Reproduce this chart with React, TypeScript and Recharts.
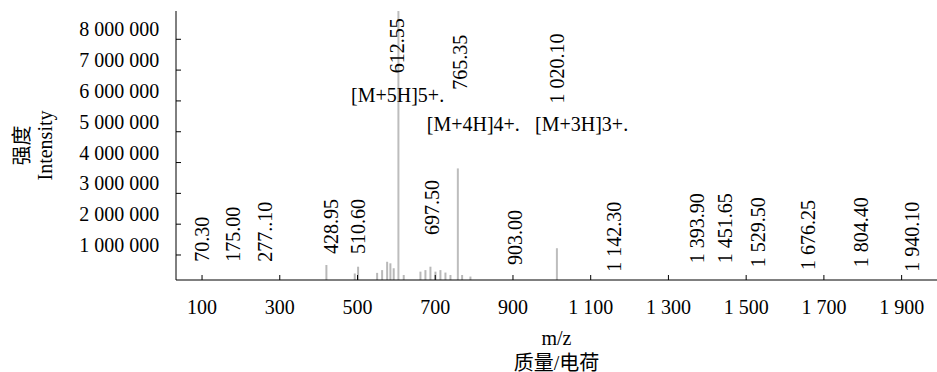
import React from 'react'
import { ComposedChart, Bar, Scatter, XAxis, YAxis, Cell } from 'recharts'

const SERIF = "'Liberation Serif', 'Times New Roman', 'Noto Sans CJK SC', serif"
const MZ_DOMAIN = [33, 1991]

// axis ticks
const xTicks = [100, 300, 500, 700, 900, 1100, 1300, 1500, 1700, 1900]
const yTicks = [1000000, 2000000, 3000000, 4000000, 5000000, 6000000, 7000000, 8000000]

// spectrum peaks (m/z, intensity)
const peakMz = [419, 492, 500.6, 549.5, 562.4, 575.3, 583.7, 592.2, 604.3, 618, 661, 673.8, 686.7, 699.6, 712.4, 725.3, 738.2, 757.2, 768.2, 789.6, 1012.1]
const peakIntensity = [675000, 400000, 620000, 420000, 510000, 780000, 730000, 570000, 9200000, 350000, 460000, 510000, 620000, 460000, 510000, 430000, 350000, 3810000, 350000, 300000, 1220000]

// peak annotations (rotated), position of the text start
const annText = ['70.30', '175.00', '277..10', '428.95', '510.60', '612.55', '765.35', '1 020.10', '697.50', '903.00', '1 142.30', '1 393.90', '1 451.65', '1 529.50', '1 676.25', '1 804.40', '1 940.10']
const annMz = [99.3, 180.6, 262.2, 432, 500.6, 601, 764, 1012.6, 691, 905.3, 1160, 1374.5, 1447.3, 1531.3, 1660, 1797, 1926]
const annPos = [783000, 783000, 783000, 1032000, 1032000, 6900000, 6360000, 5920000, 1650000, 675000, 458000, 730000, 730000, 600000, 513000, 600000, 458000]

// charge-state labels
const ionText = ['[M+5H]5+.', '[M+4H]4+.', '[M+3H]3+.']
const ionMz = [483.4, 678.2, 956.8]
const ionPos = [6130000, 5190000, 5190000]

const peaks = peakMz.map((mz, i) => ({ mz, intensity: peakIntensity[i] }))
const annotations = annText.map((text, i) => ({ mz: annMz[i], pos: annPos[i], text }))
const ions = ionText.map((text, i) => ({ mz: ionMz[i], pos: ionPos[i], text }))

const fmt = (v: number) => String(v).replace(/\B(?=(\d{3})+(?!\d))/g, ' ')

const XTick = (props: any) => {
  const { x, y, payload } = props
  return (
    <g>
      <line x1={x} y1={y} x2={x} y2={y - 5} stroke="#000" />
      <text x={x} y={y + 33.5} textAnchor="middle" fontSize={20} fontFamily={SERIF} fill="#000">
        {fmt(payload.value)}
      </text>
    </g>
  )
}

const YTick = (props: any) => {
  const { x, y, payload } = props
  return (
    <g>
      <line x1={x} y1={y} x2={x + 5} y2={y} stroke="#000" />
      <text x={x - 16.7} y={y - 3} textAnchor="end" fontSize={20} fontFamily={SERIF} fill="#000">
        {fmt(payload.value)}
      </text>
    </g>
  )
}

const YLabel = (props: any) => {
  const { x, y, height } = props.viewBox
  const cy = y + height / 2
  return (
    <g fontFamily={SERIF} fontSize={20} fill="#000">
      <text x={x + 22} y={cy} dy={7.4} textAnchor="middle" transform={`rotate(-90 ${x + 22} ${cy})`}>强度</text>
      <text x={x + 47} y={cy} dy={5} textAnchor="middle" transform={`rotate(-90 ${x + 47} ${cy})`}>Intensity</text>
    </g>
  )
}

const XLabel = (props: any) => {
  const { x, y, width } = props.viewBox
  const cx = x + width / 2
  return (
    <g fontFamily={SERIF} fontSize={20} fill="#000" textAnchor="middle">
      <text x={cx} y={y + 65}>m/z</text>
      <text x={cx} y={y + 89.5}>质量/电荷</text>
    </g>
  )
}

const RotatedLabel = (props: any) => {
  const { cx, cy, payload } = props
  return (
    <text x={cx} y={cy} dy={6.8} transform={`rotate(-90 ${cx} ${cy})`} fontSize={20} fontFamily={SERIF} fill="#000">
      {payload.text}
    </text>
  )
}

const IonLabel = (props: any) => {
  const { cx, cy, payload } = props
  return (
    <text x={cx} y={cy} dy={5} fontSize={20} fontFamily={SERIF} fill="#000">
      {payload.text}
    </text>
  )
}

export default function App() {
  return (
    <div style={{ width: 937, height: 372, background: '#fff' }}>
      <style>{'body{margin:0}'}</style>
      <ComposedChart width={937} height={372} data={peaks} margin={{ top: 11, right: 0, bottom: 0, left: 0 }}>
        <XAxis
          dataKey="mz"
          type="number"
          domain={MZ_DOMAIN}
          allowDataOverflow
          ticks={xTicks}
          interval={0}
          height={92}
          tickSize={0}
          tickMargin={0}
          tickLine={false}
          axisLine={{ stroke: '#000' }}
          tick={<XTick />}
          label={{ content: XLabel }}
        />
        <XAxis xAxisId="ann" dataKey="mz" type="number" domain={MZ_DOMAIN} allowDataOverflow hide />
        <XAxis xAxisId="top" orientation="top" type="number" domain={MZ_DOMAIN} height={0} tick={false} tickLine={false} axisLine={{ stroke: '#222' }} />
        <YAxis
          type="number"
          domain={[188600, 8918000]}
          allowDataOverflow
          ticks={yTicks}
          interval={0}
          width={176}
          tickSize={0}
          tickMargin={0}
          tickLine={false}
          axisLine={{ stroke: '#000' }}
          tick={<YTick />}
          label={{ content: YLabel }}
        />
        <Bar dataKey="intensity" barSize={2} isAnimationActive={false}>
          {peaks.map((p, i) => (
            <Cell key={i} fill={p.intensity > 1000000 ? '#bdbdbd' : '#b8b8b8'} />
          ))}
        </Bar>
        <Scatter xAxisId="ann" data={annotations} dataKey="pos" isAnimationActive={false} shape={RotatedLabel} />
        <Scatter xAxisId="ann" data={ions} dataKey="pos" isAnimationActive={false} shape={IonLabel} />
      </ComposedChart>
    </div>
  )
}
